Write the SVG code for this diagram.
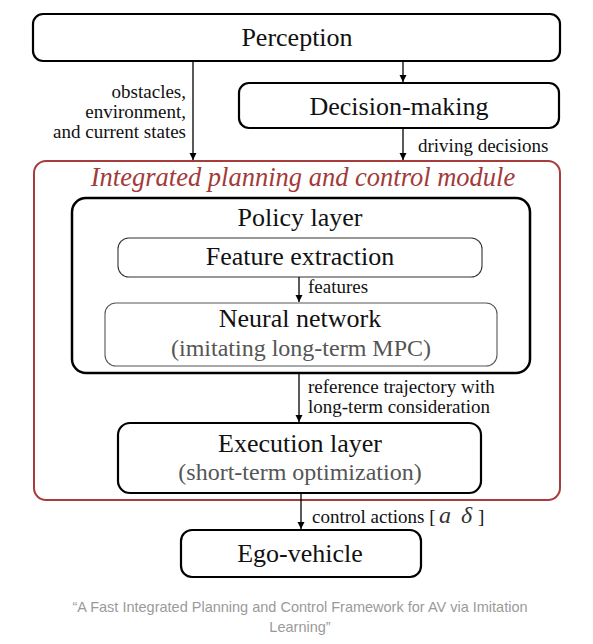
<svg xmlns="http://www.w3.org/2000/svg" width="593" height="644" viewBox="0 0 593 644">
<defs>
<marker id="ah" viewBox="0 0 10 10" refX="10" refY="5" markerWidth="7" markerHeight="11" markerUnits="userSpaceOnUse" orient="auto"><path d="M0,0 L10,5 L0,10 z" fill="#000"/></marker>
</defs>
<rect width="593" height="644" fill="#fff"/>
<g id="perception"><rect x="33" y="14" width="527" height="47" rx="10" fill="#fff" stroke="#000" stroke-width="2.2"/><text x="297" y="46" font-family="Liberation Serif" font-size="26" fill="#111" text-anchor="middle">Perception</text></g>
<g id="decision"><rect x="239" y="83" width="320" height="45" rx="10" fill="#fff" stroke="#000" stroke-width="2.2"/><text x="399" y="115" font-family="Liberation Serif" font-size="26" fill="#111" text-anchor="middle">Decision-making</text></g>
<g id="module"><rect x="34" y="161" width="526" height="339" rx="12" fill="none" stroke="#a83c3c" stroke-width="2"/><text x="303" y="186" font-family="Liberation Serif" font-style="italic" font-size="26.5" fill="#a33a3a" text-anchor="middle">Integrated planning and control module</text></g>
<g id="policy"><rect x="72" y="198" width="458" height="175" rx="14" fill="none" stroke="#000" stroke-width="2.5"/><text x="300" y="226" font-family="Liberation Serif" font-size="26" fill="#111" text-anchor="middle">Policy layer</text></g>
<g id="feature"><rect x="118" y="238" width="364" height="39" rx="11" fill="#fff" stroke="#333" stroke-width="1.1"/><text x="300" y="265" font-family="Liberation Serif" font-size="26" fill="#111" text-anchor="middle">Feature extraction</text></g>
<g id="neural"><rect x="105" y="303" width="392" height="63" rx="11" fill="#fff" stroke="#555" stroke-width="1.1"/><text x="300" y="327" font-family="Liberation Serif" font-size="26" fill="#111" text-anchor="middle">Neural network</text><text x="301" y="356" font-family="Liberation Serif" font-size="24" fill="#555" text-anchor="middle">(imitating long-term MPC)</text></g>
<g id="execution"><rect x="118" y="423" width="363" height="70" rx="12" fill="#fff" stroke="#000" stroke-width="2.2"/><text x="300" y="452" font-family="Liberation Serif" font-size="26" fill="#111" text-anchor="middle">Execution layer</text><text x="300" y="480" font-family="Liberation Serif" font-size="24" fill="#555" text-anchor="middle">(short-term optimization)</text></g>
<g id="ego"><rect x="181" y="530" width="240" height="47" rx="11" fill="#fff" stroke="#000" stroke-width="2.2"/><text x="300" y="562" font-family="Liberation Serif" font-size="26" fill="#111" text-anchor="middle">Ego-vehicle</text></g>
<g id="connectors" stroke="#000" stroke-width="1.3" fill="none" marker-end="url(#ah)">
<line x1="193" y1="61" x2="193" y2="160"/>
<line x1="403" y1="61" x2="403" y2="82"/>
<line x1="403" y1="128" x2="403" y2="160"/>
<line x1="299" y1="277" x2="299" y2="302"/>
<line x1="299" y1="373" x2="299" y2="422"/>
<line x1="301" y1="493" x2="301" y2="529"/>
</g>
<g id="labels" font-family="Liberation Serif" font-size="19" fill="#111">
<text x="186" y="98" text-anchor="end" font-family="Liberation Serif">obstacles,</text>
<text x="186" y="118" text-anchor="end" font-family="Liberation Serif">environment,</text>
<text x="186" y="138" text-anchor="end" font-family="Liberation Serif">and current states</text>
<text x="418" y="152" font-family="Liberation Serif">driving decisions</text>
<text x="308" y="293" font-family="Liberation Serif">features</text>
<text x="308" y="393" font-family="Liberation Serif">reference trajectory with</text>
<text x="308" y="413" font-family="Liberation Serif">long-term consideration</text>
<text x="312" y="523" font-family="Liberation Serif">control actions [<tspan x="439" font-style="italic" font-size="24" fill="#333">a</tspan><tspan x="461" font-style="italic" font-size="24" fill="#333">δ</tspan><tspan x="478">]</tspan></text>
</g>
<g id="caption" font-family="Liberation Sans" font-size="14.5" fill="#9a9a9a" text-anchor="middle">
<text x="300" y="612" font-family="Liberation Sans">“A Fast Integrated Planning and Control Framework for AV via Imitation</text>
<text x="300" y="632" font-family="Liberation Sans">Learning”</text>
</g>
</svg>
